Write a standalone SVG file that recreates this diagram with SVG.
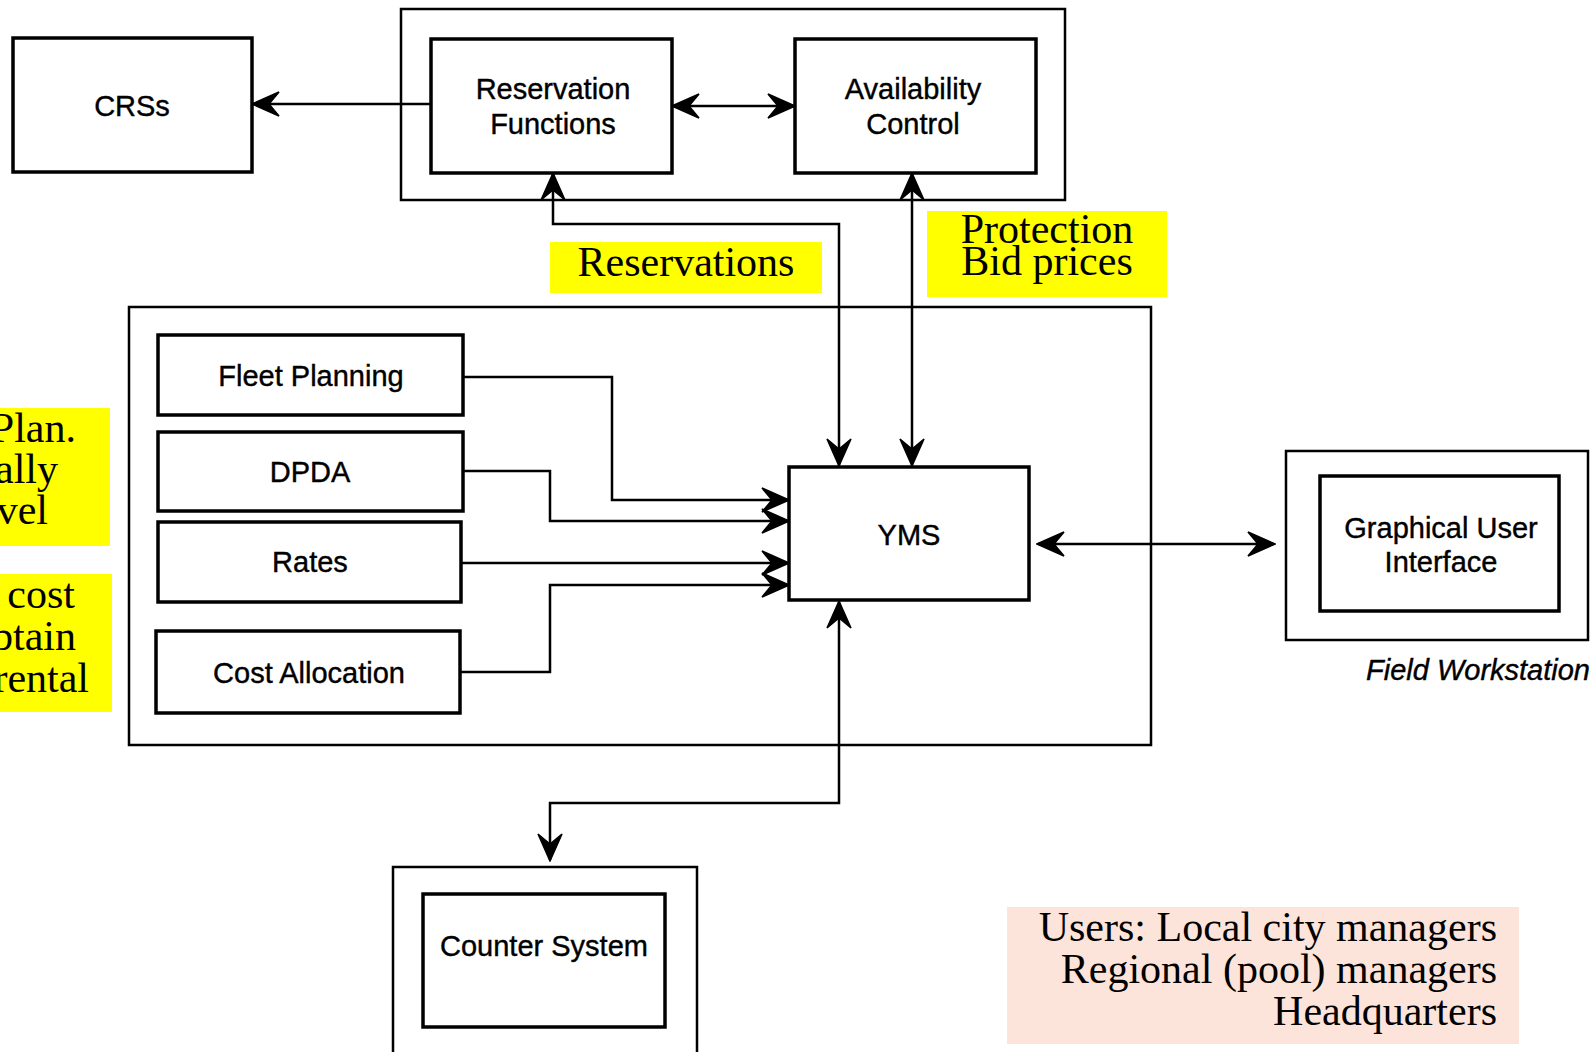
<svg xmlns="http://www.w3.org/2000/svg" width="1596" height="1052" viewBox="0 0 1596 1052">
<style>
.box{fill:#fff;stroke:#000;stroke-width:3.5}
.outer{fill:none;stroke:#000;stroke-width:2.5}
.lbl{font-family:"Liberation Sans",Arial,sans-serif;font-size:29px;fill:#000;text-anchor:middle;stroke:#000;stroke-width:0.4}
.ann{font-family:"Liberation Serif","Times New Roman",serif;font-size:42px;fill:#000}
.conn{fill:none;stroke:#000;stroke-width:2.5}
.arr{marker-end:url(#ah)}
.both{marker-start:url(#ah);marker-end:url(#ah)}
</style>
<defs>
<marker id="ah" viewBox="-28 -14 30 28" markerWidth="30" markerHeight="28" refX="0" refY="0" orient="auto-start-reverse" markerUnits="userSpaceOnUse">
<path d="M1,0 L-26,-12 L-16,0 L-26,12 Z" fill="#000" stroke="#000" stroke-width="1.5" stroke-linejoin="miter"/>
</marker>
</defs>
<rect width="1596" height="1052" fill="#fff"/>

<!-- annotations -->
<g id="note-left1">
<rect x="0" y="408" width="110" height="138" fill="#ffff00"/>
<text class="ann" text-anchor="end"><tspan x="76" y="442">Plan.</tspan><tspan x="58" y="483">ally</tspan><tspan x="48" y="524">vel</tspan></text>
</g>
<g id="note-left2">
<rect x="0" y="574" width="112" height="138" fill="#ffff00"/>
<text class="ann" text-anchor="end"><tspan x="75" y="608">cost</tspan><tspan x="76" y="650">btain</tspan><tspan x="89" y="692">rental</tspan></text>
</g>
<g id="note-reservations">
<rect x="550" y="242" width="272" height="51" fill="#ffff00"/>
<text class="ann" x="686" y="276" text-anchor="middle">Reservations</text>
</g>
<g id="note-protection">
<rect x="927" y="211" width="240" height="86" fill="#ffff00"/>
<text class="ann" text-anchor="middle"><tspan x="1047" y="243">Protection</tspan><tspan x="1047" y="275">Bid prices</tspan></text>
</g>
<g id="note-users">
<rect x="1007" y="907" width="512" height="137" fill="#fce4da"/>
<text class="ann" text-anchor="end"><tspan x="1497" y="941">Users: Local city managers</tspan><tspan x="1497" y="983">Regional (pool) managers</tspan><tspan x="1497" y="1025">Headquarters</tspan></text>
</g>

<!-- containers -->
<g id="reservation-system">
<rect class="outer" x="401" y="9" width="664" height="191"/>
</g>
<g id="yms-system">
<rect class="outer" x="129" y="307" width="1022" height="438"/>
</g>
<g id="field-workstation">
<rect class="outer" x="1286" y="451" width="302" height="189"/>
<text x="1590" y="680" font-family="'Liberation Sans',Arial,sans-serif" font-size="29" font-style="italic" text-anchor="end" stroke="#000" stroke-width="0.4">Field Workstation</text>
</g>
<g id="counter-terminal">
<rect class="outer" x="393" y="867" width="304" height="200"/>
</g>

<!-- nodes -->
<g id="crss">
<rect class="box" x="13" y="38" width="239" height="134"/>
<text class="lbl" x="132" y="116">CRSs</text>
</g>
<g id="reservation-functions">
<rect class="box" x="431" y="39" width="241" height="134"/>
<text class="lbl"><tspan x="553" y="99">Reservation</tspan><tspan x="553" y="134">Functions</tspan></text>
</g>
<g id="availability-control">
<rect class="box" x="795" y="39" width="241" height="134"/>
<text class="lbl"><tspan x="913" y="99">Availability</tspan><tspan x="913" y="134">Control</tspan></text>
</g>
<g id="fleet-planning">
<rect class="box" x="158" y="335" width="305" height="80"/>
<text class="lbl" x="311" y="386">Fleet Planning</text>
</g>
<g id="dpda">
<rect class="box" x="158" y="432" width="305" height="79"/>
<text class="lbl" x="310" y="482">DPDA</text>
</g>
<g id="rates">
<rect class="box" x="158" y="522" width="303" height="80"/>
<text class="lbl" x="310" y="572">Rates</text>
</g>
<g id="cost-allocation">
<rect class="box" x="156" y="631" width="304" height="82"/>
<text class="lbl" x="309" y="683">Cost Allocation</text>
</g>
<g id="yms">
<rect class="box" x="789" y="467" width="240" height="133"/>
<text class="lbl" x="909" y="545">YMS</text>
</g>
<g id="gui">
<rect class="box" x="1320" y="476" width="239" height="135"/>
<text class="lbl"><tspan x="1441" y="538">Graphical User</tspan><tspan x="1441" y="572">Interface</tspan></text>
</g>
<g id="counter-system">
<rect class="box" x="423" y="894" width="242" height="133"/>
<text class="lbl" x="544" y="956">Counter System</text>
</g>

<!-- connectors -->
<g id="connectors">
<path class="conn arr" d="M431,104 H253"/>
<path class="conn both" d="M673,106 H794"/>
<path class="conn both" d="M553,174 V224 H839 V465"/>
<path class="conn both" d="M912,174 V465"/>
<path class="conn both" d="M839,602 V803 H550 V860"/>
<path class="conn both" d="M1038,544 H1274"/>
<path class="conn arr" d="M463,377 H612 V500 H788"/>
<path class="conn arr" d="M463,471 H550 V521 H788"/>
<path class="conn arr" d="M461,563 H788"/>
<path class="conn arr" d="M460,672 H550 V585 H788"/>
</g>
</svg>
